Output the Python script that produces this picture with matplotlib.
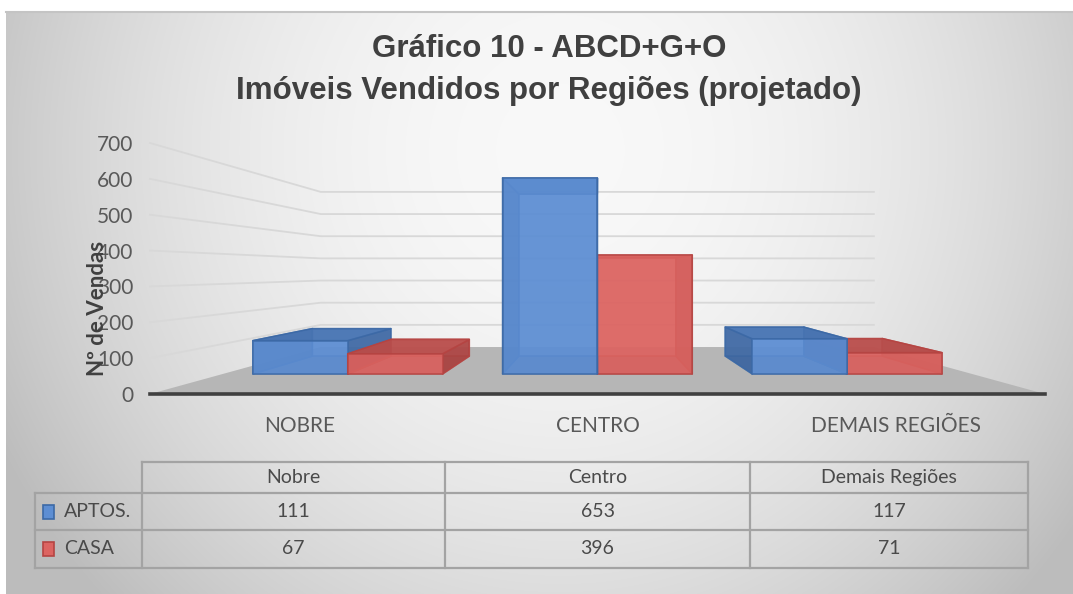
import numpy as np
import matplotlib.pyplot as plt
from matplotlib.patches import Polygon, Rectangle

# data
regions = ['NOBRE', 'CENTRO', 'DEMAIS REGIÕES']
table_cols = ['Nobre', 'Centro', 'Demais Regiões']
series_names = ['APTOS.', 'CASA']
aptos = [111, 653, 117]
casa = [67, 396, 71]
y_ticks = [0, 100, 200, 300, 400, 500, 600, 700]

W, H = 1073, 594
BODY = 'Lato'
TXT = '#595959'

# one point perspective (front plane = axes data units)
VP_Y = 343          # height of vanishing point in value units
S_FRONT, S_BACK = 0.837, 0.692   # bar front / back depth
S_WALL = 0.618      # back wall depth
X_L, X_R = -447, 448

blue = dict(front='#5d8ed3', top='#4874b2', side='#3d66a0', edge='#3c69a6')
red = dict(front='#dc6461', top='#b84e4c', side='#a94341', edge='#b54442')


def proj(x, v, s):
    return s * x, VP_Y + s * (v - VP_Y)


fig = plt.figure(figsize=(W / 100, H / 100), dpi=100)
fig.patch.set_facecolor('white')

# background with gradient, also used for table (pixel coords)
bg = fig.add_axes([0, 0, 1, 1])
bg.set_xlim(0, W)
bg.set_ylim(H, 0)
bg.axis('off')
yy, xx = np.mgrid[11:H, 6:W]
d = np.sqrt(((xx - 560) / 580.0) ** 2 + ((yy - 150) / 600.0) ** 2)
g = np.clip(0.975 - 0.2 * d ** 2, 0.74, 1)
bg.imshow(np.dstack([g, g, g]), extent=(6, W, H, 11), aspect='auto', zorder=0)
bg.plot([6, W], [11.5, 11.5], color='#c4c4c4', lw=1.5, zorder=1)

# title
bg.text(549, 57, 'Gráfico 10 - ABCD+G+O', ha='center', va='baseline',
        fontsize=22.5, fontweight='bold', family='Liberation Sans', color='#404040')
bg.text(549, 99, 'Imóveis Vendidos por Regiões (projetado)', ha='center', va='baseline',
        fontsize=22.5, fontweight='bold', family='Liberation Sans', color='#404040')

# main plot
ax = fig.add_axes([150 / W, 200 / H, 895 / W, 251 / H])
ax.set_xlim(X_L, X_R)
ax.set_ylim(0, 700)
ax.patch.set_visible(False)
for sp in ['top', 'right', 'left']:
    ax.spines[sp].set_visible(False)
ax.spines['bottom'].set_color('#404040')
ax.spines['bottom'].set_linewidth(2.6)
ax.spines['bottom'].set_zorder(20)

cat_w = (X_R - X_L) / 3
centers = [X_L + cat_w * (i + 0.5) for i in range(3)]
ax.set_yticks(y_ticks)
ax.set_yticklabels([str(t) for t in y_ticks], family=BODY, fontsize=15, color=TXT)
ax.set_xticks(centers)
ax.set_xticklabels(regions, family=BODY, fontsize=15, color=TXT)
ax.tick_params(axis='y', length=0, pad=12)
ax.tick_params(axis='x', length=0, pad=16)

# wall gridlines
for v in y_ticks[1:]:
    pts = [proj(X_L, v, 1), proj(X_L, v, S_WALL), proj(X_R, v, S_WALL)]
    ax.plot([p[0] for p in pts], [p[1] for p in pts], color='#d8d8d8', lw=1.3,
            zorder=1, clip_on=False)

# floor
floor = [proj(X_L, 0, 1), proj(X_R, 0, 1), proj(X_R, 0, S_WALL), proj(X_L, 0, S_WALL)]
ax.add_patch(Polygon(floor, closed=True, facecolor='#b6b6b6', edgecolor='none', zorder=2))

# bars
bw = 0.38 * cat_w
bars = []
for j, (vals, col) in enumerate([(aptos, blue), (casa, red)]):
    for i, v in enumerate(vals):
        x0 = centers[i] - bw + j * bw
        bars.append((x0, x0 + bw, v, col))
bars.sort(key=lambda b: -abs((b[0] + b[1]) / 2))

z = 3
for x0, x1, v, col in bars:
    def face(pts, fc, alpha):
        global z
        ax.add_patch(Polygon([proj(*p) for p in pts], closed=True, facecolor=fc,
                             edgecolor=col['edge'], lw=1.1, alpha=alpha, zorder=z,
                             joinstyle='round'))
        z += 0.01
    face([(x0, 0, S_BACK), (x1, 0, S_BACK), (x1, v, S_BACK), (x0, v, S_BACK)], col['front'], 0.6)
    face([(x0, 0, S_FRONT), (x1, 0, S_FRONT), (x1, 0, S_BACK), (x0, 0, S_BACK)], col['side'], 0.6)
    face([(x0, 0, S_FRONT), (x0, v, S_FRONT), (x0, v, S_BACK), (x0, 0, S_BACK)], col['side'], 0.85)
    face([(x1, 0, S_FRONT), (x1, v, S_FRONT), (x1, v, S_BACK), (x1, 0, S_BACK)], col['side'], 0.85)
    face([(x0, v, S_FRONT), (x1, v, S_FRONT), (x1, v, S_BACK), (x0, v, S_BACK)], col['top'], 0.9)
    face([(x0, 0, S_FRONT), (x1, 0, S_FRONT), (x1, v, S_FRONT), (x0, v, S_FRONT)], col['front'], 0.85)
    z += 1

fig.text(97 / W, 1 - 308 / H, 'Nº de Vendas', rotation=90, ha='center', va='center',
         fontsize=16, fontweight='bold', family=BODY, color='#404040')

# data table
col_edges = [142, 445, 750, 1028]
row_edges = [462, 493, 530, 568]
row_left = 35
lc, lw = '#a3a3a3', 1.6
bg.plot([col_edges[0], col_edges[-1]], [row_edges[0]] * 2, color=lc, lw=lw, zorder=2)
for y in row_edges[1:]:
    bg.plot([row_left, col_edges[-1]], [y, y], color=lc, lw=lw, zorder=2)
bg.plot([row_left, row_left], [row_edges[1], row_edges[-1]], color=lc, lw=lw, zorder=2)
for x in col_edges:
    bg.plot([x, x], [row_edges[0], row_edges[-1]], color=lc, lw=lw, zorder=2)

tfont = dict(family=BODY, fontsize=14, color='#4a4a4a')
for k, name in enumerate(table_cols):
    cx = (col_edges[k] + col_edges[k + 1]) / 2
    bg.text(cx, (row_edges[0] + row_edges[1]) / 2, name, ha='center', va='center', **tfont)
for r, (name, vals, col) in enumerate([(series_names[0], aptos, blue), (series_names[1], casa, red)]):
    cy = (row_edges[r + 1] + row_edges[r + 2]) / 2
    bg.add_patch(Rectangle((43, cy - 7), 11, 14, facecolor=col['front'], edgecolor=col['edge'],
                           lw=1.2, zorder=3))
    bg.text(64, cy, name, ha='left', va='center', **tfont)
    for k, v in enumerate(vals):
        cx = (col_edges[k] + col_edges[k + 1]) / 2
        bg.text(cx, cy, str(v), ha='center', va='center', **tfont)

fig.savefig('out.png', dpi=100)
